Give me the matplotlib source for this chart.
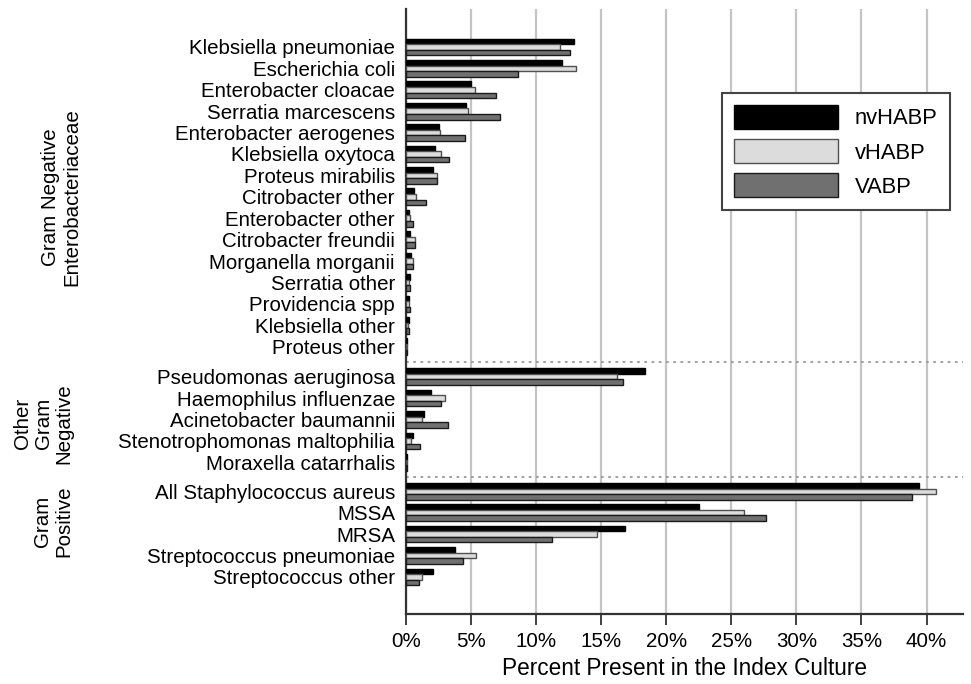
import matplotlib
matplotlib.use("Agg")
import matplotlib.pyplot as plt
import matplotlib.transforms as mtransforms
from matplotlib.ticker import FuncFormatter

plt.rcParams['font.family'] = ['Liberation Sans', 'DejaVu Sans']

# ---- data ----
group_names = ["Gram Negative\nEnterobacteriaceae", "Other\nGram\nNegative", "Gram\nPositive"]

cats_g1 = ["Klebsiella pneumoniae", "Escherichia coli", "Enterobacter cloacae",
           "Serratia marcescens", "Enterobacter aerogenes", "Klebsiella oxytoca",
           "Proteus mirabilis", "Citrobacter other", "Enterobacter other",
           "Citrobacter freundii", "Morganella morganii", "Serratia other",
           "Providencia spp", "Klebsiella other", "Proteus other"]
nv_g1 = [12.9, 12.0, 5.0, 4.6, 2.5, 2.2, 2.05, 0.6, 0.25, 0.3, 0.35, 0.3, 0.25, 0.2, 0.1]
v_g1 = [11.8, 13.1, 5.3, 4.8, 2.6, 2.7, 2.4, 0.8, 0.3, 0.7, 0.5, 0.2, 0.2, 0.15, 0.05]
va_g1 = [12.6, 8.6, 6.9, 7.2, 4.5, 3.3, 2.4, 1.5, 0.5, 0.7, 0.55, 0.3, 0.3, 0.2, 0.05]

cats_g2 = ["Pseudomonas aeruginosa", "Haemophilus influenzae", "Acinetobacter baumannii",
           "Stenotrophomonas maltophilia", "Moraxella catarrhalis"]
nv_g2 = [18.4, 1.9, 1.4, 0.5, 0.1]
v_g2 = [16.2, 3.0, 1.2, 0.4, 0.05]
va_g2 = [16.7, 2.7, 3.2, 1.1, 0.05]

cats_g3 = ["All Staphylococcus aureus", "MSSA", "MRSA",
           "Streptococcus pneumoniae", "Streptococcus other"]
nv_g3 = [39.4, 22.5, 16.8, 3.8, 2.1]
v_g3 = [40.7, 26.0, 14.7, 5.4, 1.2]
va_g3 = [38.9, 27.7, 11.2, 4.4, 1.0]

series_names = ["nvHABP", "vHABP", "VABP"]
xticks_pct = [0, 5, 10, 15, 20, 25, 30, 35, 40]

# ---- layout of categories ----
gap = 1.4
gap2 = 1.35
pos_g1 = [float(i) for i in range(len(cats_g1))]
start2 = pos_g1[-1] + gap
pos_g2 = [start2 + i for i in range(len(cats_g2))]
start3 = pos_g2[-1] + gap2
pos_g3 = [start3 + i for i in range(len(cats_g3))]

positions = pos_g1 + pos_g2 + pos_g3
cats = cats_g1 + cats_g2 + cats_g3
nv = nv_g1 + nv_g2 + nv_g3
vh = v_g1 + v_g2 + v_g3
va = va_g1 + va_g2 + va_g3

fig = plt.figure(figsize=(9.71, 6.84), dpi=100)
ax = fig.add_axes([406/971, 1 - 614/684, (963-406)/971, (614-9)/684])

h = 0.26
styles = [
    dict(color="#000000", edgecolor="#000000"),
    dict(color="#dcdcdc", edgecolor="#505050"),
    dict(color="#707070", edgecolor="#1a1a1a"),
]
offsets = [-h, 0.0, h]
for vals, off, st, name in zip([nv, vh, va], offsets, styles, series_names):
    ax.barh([p + off for p in positions], vals, height=h, label=name,
            linewidth=1.0, zorder=3, **st)

ax.set_ylim(positions[-1] + 1.73, -1.77)
ax.set_xlim(0, 42.8)
ax.set_yticks(positions)
ax.set_yticklabels(cats, fontsize=14.8)
ax.tick_params(axis='y', length=0, pad=8)
ax.set_xticks(xticks_pct)
ax.xaxis.set_major_formatter(FuncFormatter(lambda x, p: f"{x:.0f}%"))
ax.tick_params(axis='x', length=8, width=1.3, color="#333333", labelsize=14.8, pad=5)
ax.set_xlabel("Percent Present in the Index Culture", fontsize=16.3, labelpad=4)

ax.grid(axis='x', color="#c4c4c4", linewidth=1.6, zorder=0)
ax.set_axisbelow(True)
for s in ["top", "right"]:
    ax.spines[s].set_visible(False)
for s in ["left", "bottom"]:
    ax.spines[s].set_color("#333333")
    ax.spines[s].set_linewidth(1.6)

# group separators
sep1 = (pos_g1[-1] + pos_g2[0]) / 2
sep2 = (pos_g2[-1] + pos_g3[0]) / 2
for s in [sep1, sep2]:
    ax.axhline(s, color="#999999", linestyle=(0, (1.5, 2.5)), linewidth=1.3, zorder=1)

# group labels
trans = mtransforms.blended_transform_factory(fig.transFigure, ax.transData)
centers = [(pos_g1[0] + pos_g1[-1]) / 2, (pos_g2[0] + pos_g2[-1]) / 2 + 0.2,
           (pos_g3[0] + pos_g3[-1]) / 2 - 0.6]
xcent = [61/971, 43/971, 53/971]
for name, yc, xc in zip(group_names, centers, xcent):
    fig.text(xc, yc, name, transform=trans, rotation=90, ha='center', va='center',
             fontsize=14.8, multialignment='center', linespacing=1.12)

leg = ax.legend(loc='upper right', bbox_to_anchor=((950-406)/557, (614-93)/605),
                borderaxespad=0, fontsize=15.8, handlelength=4.7, handleheight=1.3,
                labelspacing=0.45, handletextpad=0.8, borderpad=0.55,
                fancybox=False, framealpha=1)
leg.get_frame().set_edgecolor("#444444")
leg.get_frame().set_linewidth(1.5)

fig.savefig("out.png", dpi=100)
